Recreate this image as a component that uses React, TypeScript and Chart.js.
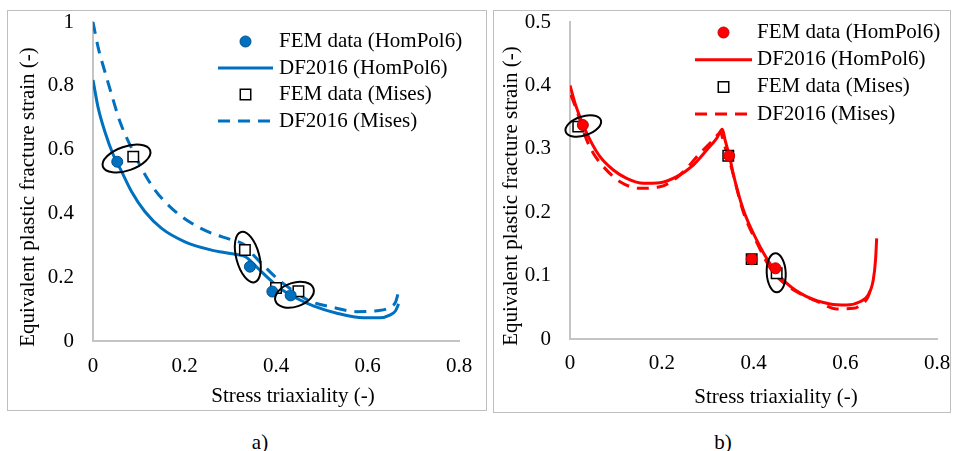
import React, { useEffect, useRef } from "react";
import { Chart, registerables } from "chart.js";

Chart.register(...registerables);

const FONT = "'Liberation Serif', 'Times New Roman', serif";
const TEXT_SIZE = 21;

// ---------- shared labels ----------
const seriesNames = ["FEM data (HomPol6)", "FEM data (Mises)", "DF2016 (HomPol6)", "DF2016 (Mises)"];
const xTitle = "Stress triaxiality (-)";
const yTitle = "Equivalent plastic fracture strain (-)";
const xTickLabels = ["0", "0.2", "0.4", "0.6", "0.8"];
const aYTickLabels = ["0", "0.2", "0.4", "0.6", "0.8", "1"];
const bYTickLabels = ["0", "0.1", "0.2", "0.3", "0.4", "0.5"];
const panelCaptions = ["a)", "b)"];

// ---------- panel a) data ----------
const aFemHomX = [0.053, 0.343, 0.392, 0.432];
const aFemHomY = [0.562, 0.233, 0.155, 0.143];
const aFemMisesX = [0.088, 0.332, 0.4, 0.449];
const aFemMisesY = [0.578, 0.285, 0.166, 0.156];
const aDfHomX = [0, 0.0116, 0.026, 0.0445, 0.0627, 0.0845, 0.1137, 0.15, 0.201, 0.259, 0.3, 0.333, 0.345, 0.355, 0.372, 0.409, 0.445, 0.4815, 0.533, 0.591, 0.627, 0.65, 0.661, 0.668];
const aDfHomY = [0.818, 0.729, 0.656, 0.583, 0.531, 0.468, 0.405, 0.353, 0.311, 0.285, 0.274, 0.264, 0.25, 0.236, 0.212, 0.165, 0.134, 0.11, 0.087, 0.073, 0.073, 0.082, 0.094, 0.116];
const aDfMisesX = [0, 0.0116, 0.026, 0.041, 0.059, 0.0845, 0.11, 0.1355, 0.172, 0.2157, 0.259, 0.303, 0.333, 0.35, 0.372, 0.4015, 0.44, 0.474, 0.525, 0.576, 0.62, 0.649, 0.6616, 0.667];
const aDfMisesY = [1.0, 0.918, 0.844, 0.771, 0.687, 0.604, 0.531, 0.473, 0.416, 0.369, 0.338, 0.317, 0.3, 0.27, 0.238, 0.197, 0.155, 0.125, 0.1055, 0.092, 0.095, 0.1055, 0.123, 0.1495];
const aEllipseX = [0.0732, 0.3384, 0.4404];
const aEllipseY = [0.572, 0.263, 0.145];

// ---------- panel b) data ----------
const bFemHomX = [0.028, 0.347, 0.396, 0.448];
const bFemHomY = [0.3375, 0.289, 0.126, 0.1115];
const bFemMisesX = [0.018, 0.345, 0.396, 0.4505];
const bFemMisesY = [0.335, 0.289, 0.126, 0.1036];
const bDfHomX = [0, 0.0109, 0.0255, 0.0436, 0.0654, 0.0944, 0.1235, 0.16, 0.196, 0.2326, 0.2688, 0.298, 0.3197, 0.332, 0.338, 0.349, 0.356, 0.378, 0.407, 0.436, 0.472, 0.516, 0.567, 0.603, 0.632, 0.65, 0.661, 0.666, 0.6685];
const bDfHomY = [0.4, 0.372, 0.343, 0.314, 0.2875, 0.2666, 0.2535, 0.2456, 0.2466, 0.256, 0.2744, 0.298, 0.3166, 0.3307, 0.314, 0.284, 0.26, 0.2035, 0.156, 0.119, 0.088, 0.0667, 0.0552, 0.0536, 0.0588, 0.0694, 0.093, 0.1246, 0.1588];
const bDfMisesX = [0.002, 0.0146, 0.0364, 0.0508, 0.0726, 0.109, 0.1526, 0.196, 0.2398, 0.2834, 0.3124, 0.3285, 0.335, 0.35, 0.378, 0.41, 0.44, 0.47, 0.494, 0.545, 0.5814, 0.6176, 0.639, 0.65, 0.656];
const bDfMisesY = [0.385, 0.361, 0.314, 0.293, 0.272, 0.248, 0.2377, 0.24, 0.2587, 0.293, 0.314, 0.3254, 0.31, 0.275, 0.2, 0.148, 0.108, 0.086, 0.0746, 0.0573, 0.0473, 0.0484, 0.0563, 0.067, 0.082];
const bEllipseX = [0.029, 0.4495];
const bEllipseY = [0.336, 0.1044];

// ---------- styling / layout (not data) ----------
const BLUE = "#0070C0";
const BLUE_EDGE = "#00508C";
const RED = "#FF0000";
const RED_EDGE = "#C00000";
const AXIS_GREY = "#c4c4c4";

type Shape = { rx: number; ry: number; rot: number };

type PanelCfg = {
  color: string;
  edge: string;
  yMax: number;
  yStep: number;
  yTicks: string[];
  femHom: [number[], number[]];
  femMises: [number[], number[]];
  dfHom: [number[], number[]];
  dfMises: [number[], number[]];
  ellX: number[];
  ellY: number[];
  ellShape: Shape[];
  canvasW: number;
  canvasH: number;
  padRight: number;
  padTop: number;
  yWidth: number;
  xHeight: number;
  xTickPad: number;
  yTickPad: number;
  xTitlePos: [number, number];
  yTitlePos: [number, number];
  legend: { x0: number; x1: number; textX: number; y0: number; dy: number };
};

const panelA: PanelCfg = {
  color: BLUE,
  edge: BLUE_EDGE,
  yMax: 1,
  yStep: 0.2,
  yTicks: aYTickLabels,
  femHom: [aFemHomX, aFemHomY],
  femMises: [aFemMisesX, aFemMisesY],
  dfHom: [aDfHomX, aDfHomY],
  dfMises: [aDfMisesX, aDfMisesY],
  ellX: aEllipseX,
  ellY: aEllipseY,
  ellShape: [
    { rx: 25, ry: 12, rot: -19 },
    { rx: 26, ry: 11.5, rot: 75 },
    { rx: 20, ry: 12, rot: -18 },
  ],
  canvasW: 478,
  canvasH: 399,
  padRight: 27,
  padTop: 11,
  yWidth: 85,
  xHeight: 69,
  xTickPad: 15,
  yTickPad: 19,
  xTitlePos: [285, 385],
  yTitlePos: [20, 186],
  legend: { x0: 210, x1: 265, textX: 271, y0: 30.5, dy: 26.5 },
};

const panelB: PanelCfg = {
  color: RED,
  edge: RED_EDGE,
  yMax: 0.5,
  yStep: 0.1,
  yTicks: bYTickLabels,
  femHom: [bFemHomX, bFemHomY],
  femMises: [bFemMisesX, bFemMisesY],
  dfHom: [bDfHomX, bDfHomY],
  dfMises: [bDfMisesX, bDfMisesY],
  ellX: bEllipseX,
  ellY: bEllipseY,
  ellShape: [
    { rx: 18.5, ry: 9.5, rot: -18 },
    { rx: 19.5, ry: 9.5, rot: 87 },
  ],
  canvasW: 456,
  canvasH: 401,
  padRight: 13,
  padTop: 11,
  yWidth: 76,
  xHeight: 73,
  xTickPad: 14,
  yTickPad: 19,
  xTitlePos: [282, 386],
  yTitlePos: [17, 185],
  legend: { x0: 201, x1: 258, textX: 263, y0: 21.5, dy: 27.2 },
};

const zip = (xs: number[], ys: number[]) => xs.map((x, i) => ({ x, y: ys[i] }));

function makeDecor(p: PanelCfg) {
  return {
    id: "decor",
    afterDatasetsDraw(chart: any) {
      const ctx = chart.ctx;
      const sx = chart.scales.x;
      const sy = chart.scales.y;
      ctx.save();
      ctx.strokeStyle = "#000";
      ctx.lineWidth = 2;
      p.ellX.forEach((ex, i) => {
        const sh = p.ellShape[i];
        ctx.beginPath();
        ctx.ellipse(
          sx.getPixelForValue(ex),
          sy.getPixelForValue(p.ellY[i]),
          sh.rx,
          sh.ry,
          (sh.rot * Math.PI) / 180,
          0,
          Math.PI * 2
        );
        ctx.stroke();
      });
      ctx.restore();
    },
    afterDraw(chart: any) {
      const ctx = chart.ctx;
      ctx.save();
      ctx.fillStyle = "#000";
      ctx.font = `${TEXT_SIZE}px ${FONT}`;
      ctx.textAlign = "center";
      ctx.textBaseline = "middle";
      ctx.fillText(xTitle, p.xTitlePos[0], p.xTitlePos[1]);
      ctx.save();
      ctx.translate(p.yTitlePos[0], p.yTitlePos[1]);
      ctx.rotate(-Math.PI / 2);
      ctx.fillText(yTitle, 0, 0);
      ctx.restore();

      // legend: FEM HomPol6, DF HomPol6, FEM Mises, DF Mises
      const order = [0, 2, 1, 3];
      const L = p.legend;
      const ds = chart.data.datasets;
      order.forEach((di, row) => {
        const d = ds[di];
        const y = L.y0 + row * L.dy;
        const cx = (L.x0 + L.x1) / 2;
        ctx.save();
        if (d.showLine) {
          ctx.strokeStyle = d.borderColor;
          ctx.lineWidth = d.borderWidth;
          ctx.setLineDash(d.borderDash || []);
          ctx.beginPath();
          ctx.moveTo(L.x0, y);
          ctx.lineTo(L.x1, y);
          ctx.stroke();
        } else if (d.pointStyle === "circle") {
          ctx.fillStyle = d.backgroundColor;
          ctx.strokeStyle = d.borderColor;
          ctx.lineWidth = d.borderWidth;
          ctx.beginPath();
          ctx.arc(cx, y, d.pointRadius, 0, Math.PI * 2);
          ctx.fill();
          ctx.stroke();
        } else {
          const s = d.pointRadius * Math.SQRT1_2;
          ctx.fillStyle = d.backgroundColor;
          ctx.strokeStyle = d.borderColor;
          ctx.lineWidth = d.borderWidth;
          ctx.beginPath();
          ctx.rect(cx - s, y - s, 2 * s, 2 * s);
          ctx.fill();
          ctx.stroke();
        }
        ctx.restore();
        ctx.fillStyle = "#000";
        ctx.textAlign = "left";
        ctx.textBaseline = "middle";
        ctx.fillText(d.label, L.textX, y);
      });
      ctx.restore();
    },
  };
}

function Panel({ cfg, left, top, width, height }: { cfg: PanelCfg; left: number; top: number; width: number; height: number }) {
  const ref = useRef<HTMLCanvasElement | null>(null);
  useEffect(() => {
    if (!ref.current) return;
    const tickFont = { family: FONT, size: TEXT_SIZE, lineHeight: 1 };
    const chart = new Chart(ref.current, {
      type: "scatter",
      data: {
        datasets: [
          {
            label: seriesNames[0],
            data: zip(cfg.femHom[0], cfg.femHom[1]),
            pointStyle: "circle",
            pointRadius: 5.5,
            backgroundColor: cfg.color,
            borderColor: cfg.edge,
            borderWidth: 1,
            showLine: false,
          },
          {
            label: seriesNames[1],
            data: zip(cfg.femMises[0], cfg.femMises[1]),
            pointStyle: "rect",
            pointRadius: 7.4,
            backgroundColor: "#ffffff",
            borderColor: "#000000",
            borderWidth: 1.5,
            showLine: false,
          },
          {
            label: seriesNames[2],
            data: zip(cfg.dfHom[0], cfg.dfHom[1]),
            showLine: true,
            pointRadius: 0,
            borderColor: cfg.color,
            backgroundColor: cfg.color,
            borderWidth: 3,
            cubicInterpolationMode: "monotone",
          },
          {
            label: seriesNames[3],
            data: zip(cfg.dfMises[0], cfg.dfMises[1]),
            showLine: true,
            pointRadius: 0,
            borderColor: cfg.color,
            backgroundColor: cfg.color,
            borderWidth: 3,
            borderDash: [12, 8],
            cubicInterpolationMode: "monotone",
          },
        ] as any,
      },
      options: {
        animation: false,
        responsive: false,
        events: [],
        devicePixelRatio: 1,
        layout: { padding: { left: 0, top: cfg.padTop, right: cfg.padRight, bottom: 0 } },
        plugins: { legend: { display: false }, tooltip: { enabled: false }, title: { display: false } },
        scales: {
          x: {
            type: "linear",
            min: 0,
            max: 0.8,
            ticks: {
              stepSize: 0.2,
              autoSkip: false,
              maxRotation: 0,
              padding: cfg.xTickPad,
              color: "#000",
              font: tickFont,
              callback: (_v: any, i: number) => xTickLabels[i],
            },
            grid: { display: false, drawTicks: false, tickLength: 0 },
            border: { display: true, color: AXIS_GREY, width: 2 },
            afterFit: (s: any) => {
              s.height = cfg.xHeight;
              s.paddingLeft = 0;
              s.paddingRight = 0;
            },
          },
          y: {
            type: "linear",
            min: 0,
            max: cfg.yMax,
            ticks: {
              stepSize: cfg.yStep,
              autoSkip: false,
              padding: cfg.yTickPad,
              color: "#000",
              font: tickFont,
              callback: (_v: any, i: number) => cfg.yTicks[i],
            },
            grid: { display: false, drawTicks: false, tickLength: 0 },
            border: { display: true, color: AXIS_GREY, width: 2 },
            afterFit: (s: any) => {
              s.width = cfg.yWidth;
              s.paddingTop = 0;
              s.paddingBottom = 0;
            },
          },
        },
      } as any,
      plugins: [makeDecor(cfg)],
    });
    return () => chart.destroy();
  }, [cfg]);
  return (
    <div
      style={{
        position: "absolute",
        left,
        top,
        width,
        height,
        border: "1px solid #bfbfbf",
        boxSizing: "border-box",
        background: "#fff",
      }}
    >
      <canvas
        ref={ref}
        width={cfg.canvasW}
        height={cfg.canvasH}
        style={{ position: "absolute", left: 0, top: 0, width: cfg.canvasW, height: cfg.canvasH }}
      />
    </div>
  );
}

export default function App() {
  const cap = { position: "absolute" as const, top: 442, transform: "translate(-50%, -50%)", fontSize: TEXT_SIZE, fontFamily: FONT, color: "#000", lineHeight: "24px" };
  return (
    <div style={{ position: "absolute", left: 0, top: 0, width: 953, height: 451, background: "#fff", overflow: "hidden" }}>
      <Panel cfg={panelA} left={7} top={10} width={480} height={401} />
      <Panel cfg={panelB} left={493} top={10} width={458} height={403} />
      <div style={{ ...cap, left: 260 }}>{panelCaptions[0]}</div>
      <div style={{ ...cap, left: 723 }}>{panelCaptions[1]}</div>
    </div>
  );
}
